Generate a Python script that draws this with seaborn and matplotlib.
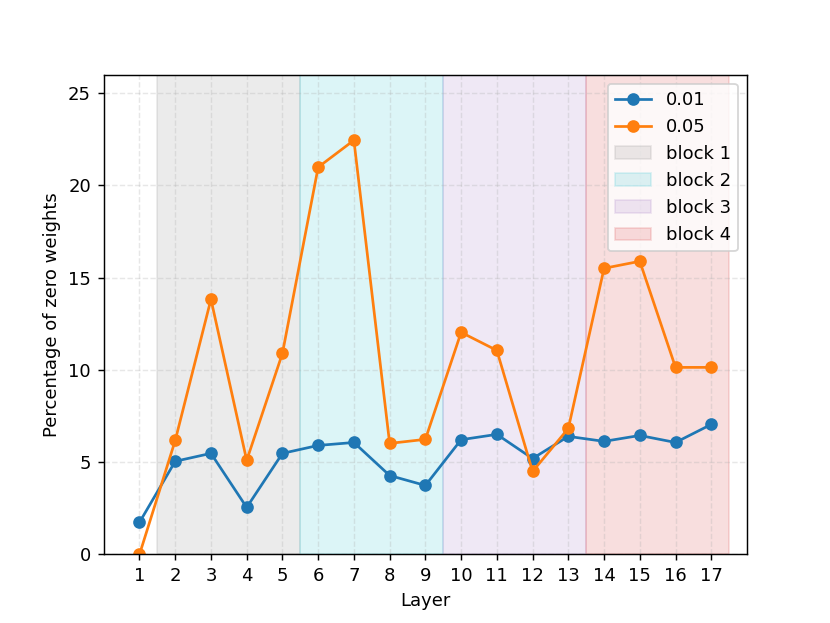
import matplotlib
matplotlib.use("Agg")
import matplotlib.pyplot as plt
import seaborn as sns

# values
layers = list(range(1, 18))
zero_001 = [1.74, 5.05, 5.48, 2.55, 5.48, 5.91, 6.07, 4.28, 3.74,
            6.22, 6.51, 5.2, 6.4, 6.13, 6.45, 6.07, 7.05]
zero_005 = [0.0, 6.18, 13.83, 5.1, 10.9, 20.99, 22.45, 6.02, 6.24,
            12.04, 11.06, 4.5, 6.83, 15.51, 15.89, 10.14, 10.14]
block_names = ['block 1', 'block 2', 'block 3', 'block 4']
block_edges = [(1.5, 5.5), (5.5, 9.5), (9.5, 13.5), (13.5, 17.5)]
block_colors = ['tab:gray', 'tab:cyan', 'tab:purple', 'tab:red']

fig = plt.figure(figsize=(830 / 130, 623 / 130), dpi=130)
ax = plt.gca()

sns.lineplot(x=layers, y=zero_001, marker='o', color='C0',
             markeredgecolor='C0', markeredgewidth=1, markersize=6,
             label='0.01', ax=ax)
sns.lineplot(x=layers, y=zero_005, marker='o', color='C1',
             markeredgecolor='C1', markeredgewidth=1, markersize=6,
             label='0.05', ax=ax)

for name, (lo, hi), c in zip(block_names, block_edges, block_colors):
    ax.axvspan(lo, hi, color=c, alpha=0.15, label=name)

ax.set_xlim(0, 18)
ax.set_ylim(0, 26)
ax.set_xticks(layers)
ax.set_yticks([0, 5, 10, 15, 20, 25])
ax.grid(True, linestyle='--', alpha=0.3)
ax.set_xlabel('Layer')
ax.set_ylabel('Percentage of zero weights')
ax.legend(loc='upper right')

plt.savefig('out.png', dpi=130)
